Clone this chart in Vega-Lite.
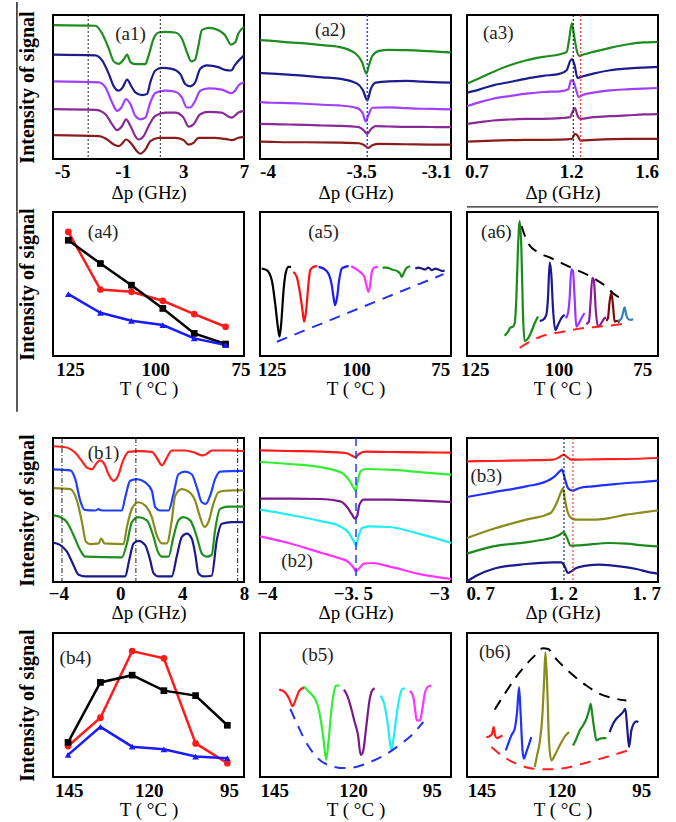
{
"$schema": "https://vega.github.io/schema/vega-lite/v6.json",
"background": "white",
"autosize": {"type": "pad"},
"padding": {"left": 15, "top": 0, "right": 2, "bottom": 2},
"config": {
 "view": {"stroke": "black", "strokeWidth": 2},
 "legend": {"disable": true},
 "text": {"font": "Liberation Serif, Times New Roman, serif", "fontSize": 19, "color": "#222"},
 "axis": {"grid": false, "ticks": false, "domain": false, "labelFont": "Liberation Serif, Times New Roman, serif", "labelFontWeight": "bold", "labelFontSize": 19, "labelColor": "black", "titleFont": "Liberation Serif, Times New Roman, serif", "titleFontWeight": "normal", "titleFontSize": 19, "titleColor": "black", "labelFlush": false, "labelOverlap": false}
},
"datasets": {
 "a1v": [{"x": -3.28}, {"x": 1.48}],
 "a1": [
  {"s":"g","x":-5.53,"y":398},{"s":"g","x":-2.8,"y":396},{"s":"g","x":-2.36,"y":373},{"s":"g","x":-1.92,"y":328},{"s":"g","x":-1.59,"y":290},{"s":"g","x":-1.26,"y":283},{"s":"g","x":-0.93,"y":296},{"s":"g","x":-0.71,"y":310},{"s":"g","x":-0.49,"y":288},{"s":"g","x":-0.17,"y":282},{"s":"g","x":0.49,"y":282},{"s":"g","x":0.71,"y":308},{"s":"g","x":1.04,"y":358},{"s":"g","x":1.37,"y":376},{"s":"g","x":1.81,"y":378},{"s":"g","x":2.46,"y":376},{"s":"g","x":2.9,"y":358},{"s":"g","x":3.23,"y":318},{"s":"g","x":3.52,"y":290},{"s":"g","x":3.78,"y":296},{"s":"g","x":4.0,"y":338},{"s":"g","x":4.22,"y":383},{"s":"g","x":4.66,"y":390},{"s":"g","x":5.31,"y":383},{"s":"g","x":5.75,"y":368},{"s":"g","x":6.15,"y":340},{"s":"g","x":6.41,"y":346},{"s":"g","x":6.63,"y":373},{"s":"g","x":7.0,"y":393},
  {"s":"n","x":-5.53,"y":310},{"s":"n","x":-2.8,"y":308},{"s":"n","x":-2.36,"y":293},{"s":"n","x":-1.92,"y":253},{"s":"n","x":-1.59,"y":216},{"s":"n","x":-1.26,"y":203},{"s":"n","x":-1.0,"y":213},{"s":"n","x":-0.71,"y":236},{"s":"n","x":-0.43,"y":216},{"s":"n","x":-0.17,"y":198},{"s":"n","x":0.27,"y":190},{"s":"n","x":0.6,"y":193},{"s":"n","x":0.82,"y":228},{"s":"n","x":1.15,"y":263},{"s":"n","x":1.59,"y":271},{"s":"n","x":2.25,"y":268},{"s":"n","x":2.79,"y":253},{"s":"n","x":3.12,"y":223},{"s":"n","x":3.45,"y":216},{"s":"n","x":3.78,"y":228},{"s":"n","x":4.11,"y":268},{"s":"n","x":4.55,"y":278},{"s":"n","x":5.31,"y":273},{"s":"n","x":5.75,"y":265},{"s":"n","x":6.15,"y":263},{"s":"n","x":6.41,"y":280},{"s":"n","x":7.0,"y":308},
  {"s":"v","x":-5.53,"y":231},{"s":"v","x":-2.58,"y":228},{"s":"v","x":-2.14,"y":213},{"s":"v","x":-1.7,"y":168},{"s":"v","x":-1.37,"y":143},{"s":"v","x":-1.09,"y":153},{"s":"v","x":-0.78,"y":178},{"s":"v","x":-0.49,"y":163},{"s":"v","x":-0.17,"y":128},{"s":"v","x":0.16,"y":118},{"s":"v","x":0.49,"y":123},{"s":"v","x":0.82,"y":168},{"s":"v","x":1.15,"y":196},{"s":"v","x":1.81,"y":203},{"s":"v","x":2.46,"y":200},{"s":"v","x":2.9,"y":183},{"s":"v","x":3.23,"y":153},{"s":"v","x":3.45,"y":153},{"s":"v","x":3.78,"y":173},{"s":"v","x":4.11,"y":203},{"s":"v","x":4.66,"y":210},{"s":"v","x":5.53,"y":206},{"s":"v","x":6.15,"y":196},{"s":"v","x":6.41,"y":203},{"s":"v","x":6.63,"y":218},{"s":"v","x":7.0,"y":228},
  {"s":"p","x":-5.53,"y":148},{"s":"p","x":-2.8,"y":146},{"s":"p","x":-2.14,"y":133},{"s":"p","x":-1.7,"y":103},{"s":"p","x":-1.37,"y":86},{"s":"p","x":-1.04,"y":98},{"s":"p","x":-0.78,"y":118},{"s":"p","x":-0.49,"y":98},{"s":"p","x":-0.17,"y":68},{"s":"p","x":0.05,"y":58},{"s":"p","x":0.38,"y":68},{"s":"p","x":0.71,"y":98},{"s":"p","x":1.15,"y":128},{"s":"p","x":1.81,"y":138},{"s":"p","x":2.46,"y":138},{"s":"p","x":3.01,"y":123},{"s":"p","x":3.34,"y":96},{"s":"p","x":3.67,"y":103},{"s":"p","x":4.11,"y":133},{"s":"p","x":4.66,"y":140},{"s":"p","x":5.53,"y":138},{"s":"p","x":5.97,"y":126},{"s":"p","x":6.19,"y":123},{"s":"p","x":6.63,"y":138},{"s":"p","x":7.0,"y":143},
  {"s":"r","x":-5.53,"y":71},{"s":"r","x":-2.58,"y":68},{"s":"r","x":-2.03,"y":58},{"s":"r","x":-1.59,"y":43},{"s":"r","x":-1.26,"y":38},{"s":"r","x":-1.0,"y":48},{"s":"r","x":-0.78,"y":58},{"s":"r","x":-0.39,"y":43},{"s":"r","x":-0.06,"y":23},{"s":"r","x":0.16,"y":16},{"s":"r","x":0.49,"y":28},{"s":"r","x":0.82,"y":53},{"s":"r","x":1.37,"y":63},{"s":"r","x":2.46,"y":63},{"s":"r","x":3.01,"y":56},{"s":"r","x":3.34,"y":43},{"s":"r","x":3.67,"y":48},{"s":"r","x":4.0,"y":63},{"s":"r","x":5.09,"y":63},{"s":"r","x":5.97,"y":58},{"s":"r","x":6.19,"y":56},{"s":"r","x":6.63,"y":63},{"s":"r","x":7.0,"y":66}
 ],
 "a2v": [{"x": -3.467}],
 "a2": [
  {"s":"g","x":-4.039,"y":355},{"s":"g","x":-3.977,"y":353},{"s":"g","x":-3.887,"y":348},{"s":"g","x":-3.798,"y":345},{"s":"g","x":-3.708,"y":340},{"s":"g","x":-3.619,"y":335},{"s":"g","x":-3.53,"y":315},{"s":"g","x":-3.494,"y":288},{"s":"g","x":-3.472,"y":255},{"s":"g","x":-3.458,"y":280},{"s":"g","x":-3.44,"y":308},{"s":"g","x":-3.404,"y":323},{"s":"g","x":-3.351,"y":326},{"s":"g","x":-3.261,"y":325},{"s":"g","x":-3.172,"y":323},{"s":"g","x":-3.082,"y":320},{"s":"g","x":-3.02,"y":318},
  {"s":"n","x":-4.039,"y":257},{"s":"n","x":-3.977,"y":255},{"s":"n","x":-3.887,"y":252},{"s":"n","x":-3.798,"y":248},{"s":"n","x":-3.708,"y":244},{"s":"n","x":-3.619,"y":240},{"s":"n","x":-3.521,"y":225},{"s":"n","x":-3.49,"y":205},{"s":"n","x":-3.467,"y":175},{"s":"n","x":-3.449,"y":208},{"s":"n","x":-3.422,"y":228},{"s":"n","x":-3.351,"y":232},{"s":"n","x":-3.261,"y":233},{"s":"n","x":-3.172,"y":231},{"s":"n","x":-3.082,"y":229},{"s":"n","x":-3.02,"y":228},
  {"s":"v","x":-4.039,"y":170},{"s":"v","x":-3.977,"y":168},{"s":"v","x":-3.887,"y":167},{"s":"v","x":-3.798,"y":165},{"s":"v","x":-3.708,"y":162},{"s":"v","x":-3.619,"y":160},{"s":"v","x":-3.521,"y":152},{"s":"v","x":-3.49,"y":135},{"s":"v","x":-3.476,"y":112},{"s":"v","x":-3.462,"y":130},{"s":"v","x":-3.44,"y":153},{"s":"v","x":-3.351,"y":154},{"s":"v","x":-3.261,"y":152},{"s":"v","x":-3.172,"y":150},{"s":"v","x":-3.082,"y":149},{"s":"v","x":-3.02,"y":148},
  {"s":"p","x":-4.039,"y":105},{"s":"p","x":-3.977,"y":104},{"s":"p","x":-3.887,"y":103},{"s":"p","x":-3.798,"y":102},{"s":"p","x":-3.708,"y":100},{"s":"p","x":-3.619,"y":99},{"s":"p","x":-3.512,"y":95},{"s":"p","x":-3.485,"y":85},{"s":"p","x":-3.467,"y":75},{"s":"p","x":-3.449,"y":88},{"s":"p","x":-3.422,"y":98},{"s":"p","x":-3.351,"y":97},{"s":"p","x":-3.261,"y":96},{"s":"p","x":-3.172,"y":96},{"s":"p","x":-3.082,"y":95},{"s":"p","x":-3.02,"y":95},
  {"s":"r","x":-4.039,"y":52},{"s":"r","x":-3.977,"y":51},{"s":"r","x":-3.887,"y":50},{"s":"r","x":-3.798,"y":50},{"s":"r","x":-3.619,"y":49},{"s":"r","x":-3.512,"y":47},{"s":"r","x":-3.485,"y":42},{"s":"r","x":-3.462,"y":33},{"s":"r","x":-3.44,"y":41},{"s":"r","x":-3.404,"y":45},{"s":"r","x":-3.261,"y":44},{"s":"r","x":-3.082,"y":43},{"s":"r","x":-3.02,"y":43}
 ],
 "a3v": [{"x": 1.212, "s": "vk"}, {"x": 1.251, "s": "vr"}],
 "a3": [
  {"s":"g","x":0.651,"y":225},{"s":"g","x":0.718,"y":242},{"s":"g","x":0.788,"y":260},{"s":"g","x":0.877,"y":280},{"s":"g","x":0.965,"y":295},{"s":"g","x":1.053,"y":305},{"s":"g","x":1.142,"y":313},{"s":"g","x":1.177,"y":320},{"s":"g","x":1.191,"y":360},{"s":"g","x":1.204,"y":405},{"s":"g","x":1.216,"y":370},{"s":"g","x":1.23,"y":325},{"s":"g","x":1.244,"y":308},{"s":"g","x":1.265,"y":312},{"s":"g","x":1.318,"y":320},{"s":"g","x":1.407,"y":332},{"s":"g","x":1.495,"y":342},{"s":"g","x":1.583,"y":348},{"s":"g","x":1.659,"y":350},
  {"s":"n","x":0.651,"y":198},{"s":"n","x":0.718,"y":208},{"s":"n","x":0.788,"y":220},{"s":"n","x":0.877,"y":230},{"s":"n","x":0.965,"y":240},{"s":"n","x":1.053,"y":248},{"s":"n","x":1.142,"y":255},{"s":"n","x":1.177,"y":265},{"s":"n","x":1.195,"y":292},{"s":"n","x":1.205,"y":298},{"s":"n","x":1.219,"y":280},{"s":"n","x":1.234,"y":242},{"s":"n","x":1.251,"y":245},{"s":"n","x":1.318,"y":255},{"s":"n","x":1.407,"y":265},{"s":"n","x":1.495,"y":270},{"s":"n","x":1.583,"y":273},{"s":"n","x":1.659,"y":275},
  {"s":"v","x":0.651,"y":158},{"s":"v","x":0.718,"y":170},{"s":"v","x":0.788,"y":180},{"s":"v","x":0.877,"y":188},{"s":"v","x":0.965,"y":195},{"s":"v","x":1.053,"y":200},{"s":"v","x":1.142,"y":202},{"s":"v","x":1.186,"y":208},{"s":"v","x":1.2,"y":235},{"s":"v","x":1.212,"y":232},{"s":"v","x":1.226,"y":208},{"s":"v","x":1.241,"y":185},{"s":"v","x":1.257,"y":190},{"s":"v","x":1.318,"y":198},{"s":"v","x":1.407,"y":205},{"s":"v","x":1.495,"y":208},{"s":"v","x":1.583,"y":210},{"s":"v","x":1.659,"y":212},
  {"s":"p","x":0.651,"y":105},{"s":"p","x":0.718,"y":110},{"s":"p","x":0.788,"y":115},{"s":"p","x":0.877,"y":118},{"s":"p","x":0.965,"y":120},{"s":"p","x":1.053,"y":120},{"s":"p","x":1.142,"y":122},{"s":"p","x":1.195,"y":125},{"s":"p","x":1.212,"y":145},{"s":"p","x":1.221,"y":152},{"s":"p","x":1.234,"y":130},{"s":"p","x":1.251,"y":120},{"s":"p","x":1.318,"y":125},{"s":"p","x":1.407,"y":128},{"s":"p","x":1.495,"y":130},{"s":"p","x":1.583,"y":133},{"s":"p","x":1.659,"y":134},
  {"s":"r","x":0.651,"y":52},{"s":"r","x":0.788,"y":55},{"s":"r","x":0.965,"y":57},{"s":"r","x":1.142,"y":58},{"s":"r","x":1.204,"y":60},{"s":"r","x":1.221,"y":75},{"s":"r","x":1.234,"y":70},{"s":"r","x":1.251,"y":55},{"s":"r","x":1.318,"y":57},{"s":"r","x":1.495,"y":60},{"s":"r","x":1.659,"y":60}
 ],
 "a4": [
  {"s":"s1","x":125.5,"y":373},{"s":"s1","x":116.1,"y":200},{"s":"s1","x":107.0,"y":193},{"s":"s1","x":97.8,"y":166},{"s":"s1","x":88.6,"y":126},{"s":"s1","x":79.4,"y":88},
  {"s":"s2","x":125.5,"y":348},{"s":"s2","x":116.1,"y":278},{"s":"s2","x":107.0,"y":213},{"s":"s2","x":97.8,"y":143},{"s":"s2","x":88.6,"y":68},{"s":"s2","x":79.4,"y":36},
  {"s":"s3","x":125.5,"y":186},{"s":"s3","x":116.1,"y":130},{"s":"s3","x":107.0,"y":106},{"s":"s3","x":97.8,"y":93},{"s":"s3","x":88.6,"y":53},{"s":"s3","x":79.4,"y":33}
 ],
 "a5": [
  {"s":"k","x":128.0,"y":263},{"s":"k","x":126.5,"y":258},{"s":"k","x":125.0,"y":228},{"s":"k","x":124.0,"y":158},{"s":"k","x":123.2,"y":88},{"s":"k","x":122.7,"y":58},{"s":"k","x":122.2,"y":98},{"s":"k","x":121.5,"y":198},{"s":"k","x":120.8,"y":253},{"s":"k","x":120.0,"y":268},{"s":"k","x":119.3,"y":268},
  {"s":"r","x":118.6,"y":253},{"s":"r","x":117.6,"y":238},{"s":"r","x":116.6,"y":188},{"s":"r","x":115.9,"y":138},{"s":"r","x":115.4,"y":103},{"s":"r","x":114.8,"y":138},{"s":"r","x":114.1,"y":218},{"s":"r","x":113.6,"y":258},{"s":"r","x":112.6,"y":268},{"s":"r","x":111.6,"y":270},
  {"s":"b","x":111.1,"y":268},{"s":"b","x":109.7,"y":263},{"s":"b","x":108.2,"y":248},{"s":"b","x":107.2,"y":213},{"s":"b","x":106.7,"y":178},{"s":"b","x":106.2,"y":153},{"s":"b","x":105.6,"y":178},{"s":"b","x":105.0,"y":228},{"s":"b","x":104.2,"y":263},{"s":"b","x":103.2,"y":268},{"s":"b","x":102.2,"y":270},
  {"s":"m","x":101.4,"y":270},{"s":"m","x":100.2,"y":263},{"s":"m","x":98.8,"y":253},{"s":"m","x":97.5,"y":238},{"s":"m","x":96.8,"y":208},{"s":"m","x":96.3,"y":193},{"s":"m","x":95.8,"y":213},{"s":"m","x":95.3,"y":253},{"s":"m","x":94.5,"y":266},{"s":"m","x":93.5,"y":268},
  {"s":"g","x":92.1,"y":266},{"s":"g","x":90.8,"y":266},{"s":"g","x":89.4,"y":260},{"s":"g","x":87.9,"y":256},{"s":"g","x":86.9,"y":248},{"s":"g","x":86.4,"y":238},{"s":"g","x":85.8,"y":250},{"s":"g","x":84.9,"y":266},{"s":"g","x":83.9,"y":270},
  {"s":"n","x":82.4,"y":263},{"s":"n","x":81.4,"y":266},{"s":"n","x":80.4,"y":263},{"s":"n","x":79.5,"y":260},{"s":"n","x":78.5,"y":266},{"s":"n","x":77.5,"y":258},{"s":"n","x":76.5,"y":263},{"s":"n","x":75.5,"y":260},{"s":"n","x":74.5,"y":256},{"s":"n","x":73.7,"y":256}
 ],
 "a5d": [{"s":"d","x":123.5,"y":43},{"s":"d","x":74.0,"y":246}],
 "a6": [
  {"s":"g","x":116.05,"y":60},{"s":"g","x":115.06,"y":72},{"s":"g","x":114.36,"y":84},{"s":"g","x":113.57,"y":87},{"s":"g","x":113.07,"y":97},{"s":"g","x":112.57,"y":172},{"s":"g","x":112.08,"y":322},{"s":"g","x":111.58,"y":400},{"s":"g","x":111.08,"y":322},{"s":"g","x":110.59,"y":122},{"s":"g","x":110.09,"y":44},{"s":"g","x":109.1,"y":52},{"s":"g","x":108.1,"y":72},{"s":"g","x":107.11,"y":97},{"s":"g","x":106.11,"y":117},
  {"s":"n","x":105.62,"y":104},{"s":"n","x":104.62,"y":107},{"s":"n","x":103.63,"y":122},{"s":"n","x":103.13,"y":172},{"s":"n","x":102.63,"y":277},{"s":"n","x":102.14,"y":242},{"s":"n","x":101.64,"y":142},{"s":"n","x":100.94,"y":77},{"s":"n","x":100.15,"y":92},{"s":"n","x":99.15,"y":112},{"s":"n","x":98.16,"y":122},
  {"s":"v","x":97.86,"y":112},{"s":"v","x":97.17,"y":127},{"s":"v","x":96.67,"y":172},{"s":"v","x":96.17,"y":257},{"s":"v","x":95.68,"y":252},{"s":"v","x":95.18,"y":172},{"s":"v","x":94.68,"y":87},{"s":"v","x":93.89,"y":97},{"s":"v","x":92.89,"y":117},{"s":"v","x":92.2,"y":127},
  {"s":"p","x":91.7,"y":94},{"s":"p","x":90.91,"y":102},{"s":"p","x":90.41,"y":162},{"s":"p","x":89.91,"y":232},{"s":"p","x":89.41,"y":222},{"s":"p","x":88.92,"y":142},{"s":"p","x":88.22,"y":87},{"s":"p","x":87.23,"y":97},{"s":"p","x":86.23,"y":112},{"s":"p","x":85.74,"y":114},
  {"s":"r","x":85.74,"y":104},{"s":"r","x":85.24,"y":112},{"s":"r","x":84.74,"y":162},{"s":"r","x":84.24,"y":187},{"s":"r","x":83.75,"y":152},{"s":"r","x":83.25,"y":102},{"s":"r","x":82.56,"y":104},{"s":"r","x":81.76,"y":100},
  {"s":"lb","x":82.26,"y":104},{"s":"lb","x":81.26,"y":110},{"s":"lb","x":80.77,"y":127},{"s":"lb","x":80.27,"y":144},{"s":"lb","x":79.77,"y":122},{"s":"lb","x":79.27,"y":110},{"s":"lb","x":78.28,"y":107},{"s":"lb","x":77.78,"y":110}
 ],
 "a6e": [
  {"s":"top","x":111.0,"y":385},{"s":"top","x":109.1,"y":335},{"s":"top","x":105.6,"y":305},{"s":"top","x":102.6,"y":292},{"s":"top","x":96.2,"y":262},{"s":"top","x":89.7,"y":232},{"s":"top","x":85.7,"y":205},{"s":"top","x":83.8,"y":187},{"s":"top","x":80.3,"y":165},
  {"s":"bot","x":111.58,"y":24},{"s":"bot","x":108.6,"y":42},{"s":"bot","x":104.6,"y":60},{"s":"bot","x":98.7,"y":72},{"s":"bot","x":93.0,"y":82},{"s":"bot","x":86.7,"y":88},{"s":"bot","x":79.8,"y":97}
 ],
 "b1v": [{"x": -3.77}, {"x": 1.01}, {"x": 7.59}],
 "b1": [
  {"s":"r","x":-4.31,"y":412},{"s":"r","x":-3.55,"y":409},{"s":"r","x":-2.91,"y":392},{"s":"r","x":-2.48,"y":367},{"s":"r","x":-2.16,"y":347},{"s":"r","x":-1.83,"y":342},{"s":"r","x":-1.51,"y":362},{"s":"r","x":-1.3,"y":369},{"s":"r","x":-1.02,"y":357},{"s":"r","x":-0.76,"y":327},{"s":"r","x":-0.43,"y":307},{"s":"r","x":-0.15,"y":322},{"s":"r","x":0.21,"y":372},{"s":"r","x":0.53,"y":395},{"s":"r","x":1.18,"y":397},{"s":"r","x":2.04,"y":395},{"s":"r","x":2.36,"y":377},{"s":"r","x":2.69,"y":354},{"s":"r","x":3.01,"y":377},{"s":"r","x":3.33,"y":399},{"s":"r","x":4.19,"y":399},{"s":"r","x":4.84,"y":392},{"s":"r","x":5.31,"y":384},{"s":"r","x":5.59,"y":389},{"s":"r","x":5.91,"y":399},{"s":"r","x":7.2,"y":399},{"s":"r","x":8.0,"y":397},
  {"s":"b","x":-4.31,"y":342},{"s":"b","x":-3.23,"y":339},{"s":"b","x":-2.91,"y":312},{"s":"b","x":-2.59,"y":247},{"s":"b","x":-2.31,"y":219},{"s":"b","x":-1.62,"y":217},{"s":"b","x":-1.4,"y":221},{"s":"b","x":-1.19,"y":217},{"s":"b","x":0.1,"y":217},{"s":"b","x":0.32,"y":257},{"s":"b","x":0.64,"y":307},{"s":"b","x":1.07,"y":312},{"s":"b","x":1.61,"y":302},{"s":"b","x":2.04,"y":277},{"s":"b","x":2.26,"y":227},{"s":"b","x":2.58,"y":217},{"s":"b","x":3.12,"y":217},{"s":"b","x":3.44,"y":267},{"s":"b","x":3.76,"y":327},{"s":"b","x":4.19,"y":335},{"s":"b","x":4.62,"y":327},{"s":"b","x":4.95,"y":287},{"s":"b","x":5.27,"y":242},{"s":"b","x":5.53,"y":237},{"s":"b","x":5.81,"y":262},{"s":"b","x":6.13,"y":312},{"s":"b","x":6.45,"y":335},{"s":"b","x":8.0,"y":337},
  {"s":"o","x":-4.31,"y":285},{"s":"o","x":-3.23,"y":282},{"s":"o","x":-2.8,"y":247},{"s":"o","x":-2.48,"y":182},{"s":"o","x":-2.22,"y":122},{"s":"o","x":-1.94,"y":115},{"s":"o","x":-1.4,"y":117},{"s":"o","x":-1.23,"y":132},{"s":"o","x":-1.02,"y":117},{"s":"o","x":0.21,"y":115},{"s":"o","x":0.43,"y":167},{"s":"o","x":0.75,"y":222},{"s":"o","x":1.18,"y":242},{"s":"o","x":1.61,"y":232},{"s":"o","x":2.04,"y":197},{"s":"o","x":2.36,"y":142},{"s":"o","x":2.69,"y":117},{"s":"o","x":3.01,"y":117},{"s":"o","x":3.33,"y":187},{"s":"o","x":3.55,"y":262},{"s":"o","x":3.98,"y":282},{"s":"o","x":4.41,"y":275},{"s":"o","x":4.84,"y":247},{"s":"o","x":5.16,"y":197},{"s":"o","x":5.44,"y":167},{"s":"o","x":5.7,"y":182},{"s":"o","x":6.02,"y":237},{"s":"o","x":6.34,"y":272},{"s":"o","x":6.77,"y":277},{"s":"o","x":8.0,"y":279},
  {"s":"g","x":-4.31,"y":202},{"s":"g","x":-3.88,"y":197},{"s":"g","x":-3.45,"y":182},{"s":"g","x":-3.02,"y":142},{"s":"g","x":-2.59,"y":97},{"s":"g","x":-2.26,"y":77},{"s":"g","x":0.1,"y":75},{"s":"g","x":0.43,"y":117},{"s":"g","x":0.75,"y":182},{"s":"g","x":1.18,"y":197},{"s":"g","x":1.72,"y":187},{"s":"g","x":2.15,"y":137},{"s":"g","x":2.43,"y":92},{"s":"g","x":2.69,"y":77},{"s":"g","x":3.12,"y":77},{"s":"g","x":3.44,"y":137},{"s":"g","x":3.76,"y":187},{"s":"g","x":4.08,"y":197},{"s":"g","x":4.52,"y":187},{"s":"g","x":4.95,"y":137},{"s":"g","x":5.27,"y":87},{"s":"g","x":5.59,"y":77},{"s":"g","x":5.91,"y":82},{"s":"g","x":6.13,"y":157},{"s":"g","x":6.45,"y":222},{"s":"g","x":6.99,"y":229},{"s":"g","x":8.0,"y":229},
  {"s":"n","x":-4.31,"y":119},{"s":"n","x":-3.88,"y":112},{"s":"n","x":-3.45,"y":92},{"s":"n","x":-3.08,"y":57},{"s":"n","x":-2.69,"y":22},{"s":"n","x":-2.26,"y":17},{"s":"n","x":0.32,"y":17},{"s":"n","x":0.58,"y":67},{"s":"n","x":0.86,"y":117},{"s":"n","x":1.18,"y":125},{"s":"n","x":1.61,"y":112},{"s":"n","x":1.93,"y":67},{"s":"n","x":2.15,"y":27},{"s":"n","x":2.47,"y":17},{"s":"n","x":3.33,"y":17},{"s":"n","x":3.65,"y":77},{"s":"n","x":3.98,"y":137},{"s":"n","x":4.3,"y":147},{"s":"n","x":4.62,"y":132},{"s":"n","x":4.84,"y":87},{"s":"n","x":5.05,"y":27},{"s":"n","x":5.38,"y":17},{"s":"n","x":5.91,"y":19},{"s":"n","x":6.24,"y":127},{"s":"n","x":6.56,"y":177},{"s":"n","x":7.2,"y":182},{"s":"n","x":8.0,"y":182}
 ],
 "b2v": [{"x": -3.482}],
 "b2": [
  {"s":"r","x":-4.039,"y":395},{"s":"r","x":-3.874,"y":393},{"s":"r","x":-3.68,"y":391},{"s":"r","x":-3.544,"y":387},{"s":"r","x":-3.505,"y":379},{"s":"r","x":-3.485,"y":374},{"s":"r","x":-3.466,"y":384},{"s":"r","x":-3.427,"y":391},{"s":"r","x":-3.291,"y":390},{"s":"r","x":-3.097,"y":389},{"s":"r","x":-2.928,"y":388},
  {"s":"g","x":-4.039,"y":360},{"s":"g","x":-3.874,"y":354},{"s":"g","x":-3.68,"y":344},{"s":"g","x":-3.563,"y":327},{"s":"g","x":-3.524,"y":307},{"s":"g","x":-3.495,"y":282},{"s":"g","x":-3.485,"y":274},{"s":"g","x":-3.476,"y":292},{"s":"g","x":-3.456,"y":332},{"s":"g","x":-3.427,"y":339},{"s":"g","x":-3.291,"y":337},{"s":"g","x":-3.097,"y":329},{"s":"g","x":-2.928,"y":322},
  {"s":"p","x":-4.039,"y":250},{"s":"p","x":-3.874,"y":250},{"s":"p","x":-3.68,"y":249},{"s":"p","x":-3.573,"y":242},{"s":"p","x":-3.534,"y":225},{"s":"p","x":-3.505,"y":202},{"s":"p","x":-3.489,"y":190},{"s":"p","x":-3.476,"y":197},{"s":"p","x":-3.462,"y":232},{"s":"p","x":-3.437,"y":247},{"s":"p","x":-3.291,"y":247},{"s":"p","x":-3.097,"y":244},{"s":"p","x":-2.928,"y":240},
  {"s":"c","x":-4.039,"y":217},{"s":"c","x":-3.874,"y":202},{"s":"c","x":-3.68,"y":182},{"s":"c","x":-3.583,"y":169},{"s":"c","x":-3.524,"y":147},{"s":"c","x":-3.495,"y":122},{"s":"c","x":-3.482,"y":109},{"s":"c","x":-3.47,"y":132},{"s":"c","x":-3.447,"y":162},{"s":"c","x":-3.408,"y":167},{"s":"c","x":-3.291,"y":165},{"s":"c","x":-3.097,"y":142},{"s":"c","x":-2.928,"y":117},
  {"s":"m","x":-4.039,"y":137},{"s":"m","x":-3.874,"y":117},{"s":"m","x":-3.68,"y":87},{"s":"m","x":-3.583,"y":72},{"s":"m","x":-3.524,"y":59},{"s":"m","x":-3.495,"y":42},{"s":"m","x":-3.482,"y":32},{"s":"m","x":-3.466,"y":39},{"s":"m","x":-3.437,"y":55},{"s":"m","x":-3.388,"y":57},{"s":"m","x":-3.291,"y":47},{"s":"m","x":-3.097,"y":22},{"s":"m","x":-2.928,"y":9}
 ],
 "b3v": [{"x": 1.204, "s": "vk"}, {"x": 1.258, "s": "vr"}],
 "b3": [
  {"s":"r","x":0.62,"y":362},{"s":"r","x":0.776,"y":363},{"s":"r","x":0.977,"y":365},{"s":"r","x":1.138,"y":367},{"s":"r","x":1.178,"y":375},{"s":"r","x":1.202,"y":382},{"s":"r","x":1.222,"y":375},{"s":"r","x":1.248,"y":367},{"s":"r","x":1.379,"y":368},{"s":"r","x":1.58,"y":369},{"s":"r","x":1.77,"y":372},
  {"s":"b","x":0.62,"y":255},{"s":"b","x":0.776,"y":269},{"s":"b","x":0.977,"y":287},{"s":"b","x":1.098,"y":302},{"s":"b","x":1.148,"y":317},{"s":"b","x":1.178,"y":332},{"s":"b","x":1.192,"y":337},{"s":"b","x":1.208,"y":312},{"s":"b","x":1.228,"y":282},{"s":"b","x":1.254,"y":274},{"s":"b","x":1.298,"y":282},{"s":"b","x":1.379,"y":287},{"s":"b","x":1.479,"y":292},{"s":"b","x":1.58,"y":297},{"s":"b","x":1.68,"y":300},{"s":"b","x":1.77,"y":304},
  {"s":"o","x":0.62,"y":132},{"s":"o","x":0.776,"y":159},{"s":"o","x":0.977,"y":187},{"s":"o","x":1.098,"y":202},{"s":"o","x":1.128,"y":209},{"s":"o","x":1.148,"y":225},{"s":"o","x":1.168,"y":247},{"s":"o","x":1.188,"y":272},{"s":"o","x":1.198,"y":282},{"s":"o","x":1.208,"y":252},{"s":"o","x":1.222,"y":217},{"s":"o","x":1.248,"y":192},{"s":"o","x":1.278,"y":187},{"s":"o","x":1.379,"y":187},{"s":"o","x":1.479,"y":192},{"s":"o","x":1.58,"y":202},{"s":"o","x":1.68,"y":209},{"s":"o","x":1.77,"y":215},
  {"s":"g","x":0.62,"y":85},{"s":"g","x":0.776,"y":107},{"s":"g","x":0.977,"y":119},{"s":"g","x":1.098,"y":129},{"s":"g","x":1.148,"y":135},{"s":"g","x":1.178,"y":142},{"s":"g","x":1.202,"y":149},{"s":"g","x":1.222,"y":132},{"s":"g","x":1.244,"y":109},{"s":"g","x":1.298,"y":110},{"s":"g","x":1.479,"y":117},{"s":"g","x":1.58,"y":115},{"s":"g","x":1.68,"y":110},{"s":"g","x":1.77,"y":107},
  {"s":"n","x":0.62,"y":2},{"s":"n","x":0.676,"y":19},{"s":"n","x":0.776,"y":39},{"s":"n","x":0.977,"y":54},{"s":"n","x":1.138,"y":59},{"s":"n","x":1.188,"y":59},{"s":"n","x":1.208,"y":47},{"s":"n","x":1.228,"y":27},{"s":"n","x":1.248,"y":32},{"s":"n","x":1.278,"y":42},{"s":"n","x":1.339,"y":49},{"s":"n","x":1.419,"y":52},{"s":"n","x":1.539,"y":47},{"s":"n","x":1.64,"y":39},{"s":"n","x":1.72,"y":29},{"s":"n","x":1.77,"y":25}
 ],
 "b4": [
  {"s":"s1","x":145.2,"y":94},{"s":"s1","x":135.1,"y":180},{"s":"s1","x":125.2,"y":382},{"s":"s1","x":115.3,"y":360},{"s":"s1","x":105.4,"y":102},{"s":"s1","x":95.5,"y":42},
  {"s":"s2","x":145.2,"y":105},{"s":"s2","x":135.1,"y":287},{"s":"s2","x":125.2,"y":309},{"s":"s2","x":115.3,"y":262},{"s":"s2","x":105.4,"y":247},{"s":"s2","x":95.5,"y":157},
  {"s":"s3","x":145.2,"y":67},{"s":"s3","x":135.1,"y":152},{"s":"s3","x":125.2,"y":92},{"s":"s3","x":115.3,"y":84},{"s":"s3","x":105.4,"y":62},{"s":"s3","x":95.5,"y":57}
 ],
 "b5": [
  {"s":"r","x":143.4,"y":265},{"s":"r","x":141.81,"y":259},{"s":"r","x":140.21,"y":237},{"s":"r","x":139.15,"y":215},{"s":"r","x":138.09,"y":237},{"s":"r","x":137.02,"y":262},{"s":"r","x":135.43,"y":272},
  {"s":"g","x":135.43,"y":275},{"s":"g","x":134.36,"y":262},{"s":"g","x":132.77,"y":247},{"s":"g","x":131.17,"y":217},{"s":"g","x":130.11,"y":167},{"s":"g","x":129.26,"y":107},{"s":"g","x":128.51,"y":52},{"s":"g","x":127.77,"y":107},{"s":"g","x":126.91,"y":197},{"s":"g","x":126.06,"y":257},{"s":"g","x":125.32,"y":277},{"s":"g","x":124.26,"y":277},
  {"s":"p","x":122.87,"y":265},{"s":"p","x":121.6,"y":242},{"s":"p","x":120.53,"y":207},{"s":"p","x":119.47,"y":167},{"s":"p","x":118.4,"y":127},{"s":"p","x":117.55,"y":67},{"s":"p","x":116.81,"y":77},{"s":"p","x":115.74,"y":157},{"s":"p","x":114.68,"y":237},{"s":"p","x":113.94,"y":262},{"s":"p","x":113.09,"y":269},
  {"s":"c","x":111.17,"y":247},{"s":"c","x":110.11,"y":222},{"s":"c","x":109.04,"y":167},{"s":"c","x":108.3,"y":107},{"s":"c","x":107.77,"y":82},{"s":"c","x":107.13,"y":117},{"s":"c","x":106.17,"y":187},{"s":"c","x":105.11,"y":247},{"s":"c","x":104.36,"y":267},{"s":"c","x":103.51,"y":269},
  {"s":"m","x":101.91,"y":262},{"s":"m","x":100.85,"y":242},{"s":"m","x":100.32,"y":207},{"s":"m","x":99.79,"y":172},{"s":"m","x":98.72,"y":172},{"s":"m","x":97.98,"y":207},{"s":"m","x":97.13,"y":257},{"s":"m","x":96.06,"y":275},{"s":"m","x":95.21,"y":277}
 ],
 "b5d": [
  {"s":"d","x":139.89,"y":207},{"s":"d","x":137.55,"y":157},{"s":"d","x":134.36,"y":97},{"s":"d","x":131.17,"y":57},{"s":"d","x":126.38,"y":32},{"s":"d","x":122.66,"y":27},{"s":"d","x":118.4,"y":32},{"s":"d","x":114.15,"y":47},{"s":"d","x":109.89,"y":67},{"s":"d","x":104.57,"y":102},{"s":"d","x":100.85,"y":132},{"s":"d","x":97.66,"y":167}
 ],
 "b6": [
  {"s":"r","x":143.44,"y":120},{"s":"r","x":142.4,"y":123},{"s":"r","x":141.67,"y":130},{"s":"r","x":141.15,"y":150},{"s":"r","x":140.73,"y":125},{"s":"r","x":140.1,"y":117},{"s":"r","x":139.27,"y":120},{"s":"r","x":138.44,"y":125},
  {"s":"b","x":137.4,"y":80},{"s":"b","x":136.35,"y":107},{"s":"b","x":135.63,"y":125},{"s":"b","x":134.58,"y":145},{"s":"b","x":133.85,"y":195},{"s":"b","x":133.23,"y":270},{"s":"b","x":132.71,"y":185},{"s":"b","x":132.19,"y":85},{"s":"b","x":131.77,"y":55},{"s":"b","x":130.94,"y":75},{"s":"b","x":129.9,"y":105},{"s":"b","x":129.38,"y":120},
  {"s":"o","x":128.33,"y":30},{"s":"o","x":127.6,"y":65},{"s":"o","x":126.77,"y":105},{"s":"o","x":125.94,"y":185},{"s":"o","x":125.42,"y":285},{"s":"o","x":125.0,"y":375},{"s":"o","x":124.48,"y":285},{"s":"o","x":123.85,"y":105},{"s":"o","x":123.13,"y":50},{"s":"o","x":122.08,"y":65},{"s":"o","x":120.52,"y":95},{"s":"o","x":118.65,"y":125},{"s":"o","x":117.6,"y":135},
  {"s":"g","x":116.35,"y":95},{"s":"g","x":115.31,"y":115},{"s":"g","x":114.27,"y":140},{"s":"g","x":113.23,"y":155},{"s":"g","x":112.19,"y":175},{"s":"g","x":111.35,"y":200},{"s":"g","x":110.83,"y":220},{"s":"g","x":110.31,"y":185},{"s":"g","x":109.58,"y":135},{"s":"g","x":109.06,"y":110},{"s":"g","x":108.02,"y":115},{"s":"g","x":106.98,"y":117},{"s":"g","x":105.94,"y":117},
  {"s":"n","x":104.9,"y":135},{"s":"n","x":103.85,"y":160},{"s":"n","x":102.81,"y":175},{"s":"n","x":101.77,"y":185},{"s":"n","x":100.73,"y":195},{"s":"n","x":100.0,"y":205},{"s":"n","x":99.48,"y":155},{"s":"n","x":98.85,"y":90},{"s":"n","x":98.13,"y":140},{"s":"n","x":97.4,"y":160},{"s":"n","x":96.56,"y":167},{"s":"n","x":95.94,"y":165}
 ],
 "b6e": [
  {"s":"top","x":140.83,"y":203},{"s":"top","x":137.71,"y":250},{"s":"top","x":134.58,"y":295},{"s":"top","x":131.46,"y":333},{"s":"top","x":128.33,"y":365},{"s":"top","x":125.73,"y":387},{"s":"top","x":124.17,"y":385},{"s":"top","x":122.08,"y":360},{"s":"top","x":117.4,"y":315},{"s":"top","x":112.19,"y":275},{"s":"top","x":108.02,"y":250},{"s":"top","x":103.85,"y":237},{"s":"top","x":99.69,"y":230},
  {"s":"bot","x":141.88,"y":90},{"s":"bot","x":138.75,"y":65},{"s":"bot","x":134.06,"y":40},{"s":"bot","x":128.85,"y":25},{"s":"bot","x":124.69,"y":23},{"s":"bot","x":118.44,"y":28},{"s":"bot","x":112.19,"y":43},{"s":"bot","x":105.94,"y":60},{"s":"bot","x":100.73,"y":75},{"s":"bot","x":98.13,"y":83}
 ]
},
"resolve": {"scale": {"color": "independent", "shape": "independent"}},
"spacing": 18,
"vconcat": [
 {
  "columns": 3,
  "bounds": "flush",
  "spacing": {"row": 53, "column": 16},
  "resolve": {"scale": {"color": "independent", "shape": "independent"}},
  "concat": [
   {
    "width": 191, "height": 144,
    "layer": [
     {"data": {"name": "a1"}, "mark": {"type": "line", "interpolate": "monotone", "strokeWidth": 2.2}, "encoding": {
       "x": {"field": "x", "type": "quantitative", "scale": {"domain": [-5.6, 7.0], "nice": false, "zero": false}, "axis": {"values": [-5, -1, 3, 7], "labelExpr": "'' + datum.value", "title": "Δp (GHz)", "labelPadding": 3, "titlePadding": 2}},
       "y": {"field": "y", "type": "quantitative", "scale": {"domain": [0, 428], "nice": false, "zero": false}, "axis": {"title": "Intensity of signal", "labels": false, "titleFontWeight": "bold", "titleFontSize": 20, "titlePadding": 16}},
       "color": {"field": "s", "type": "nominal", "scale": {"domain": ["g", "n", "v", "p", "r"], "range": ["#1e8c1e", "#1c1c8c", "#a040ff", "#8a2a96", "#8b1c1c"]}, "legend": null}}},
     {"data": {"name": "a1v"}, "mark": {"type": "rule", "color": "#222", "strokeWidth": 1, "strokeDash": [2, 2]}, "encoding": {"x": {"field": "x", "type": "quantitative"}}},
     {"data": {"values": [{}]}, "mark": {"type": "text", "text": "(a1)"}, "encoding": {"x": {"datum": -0.49}, "y": {"datum": 373}}},
     {"data": {"values": [{}]}, "mark": {"type": "rule", "color": "#222", "strokeWidth": 1.5}, "encoding": {"x": {"datum": -7.98}, "y": {"datum": 467}, "y2": {"datum": -157}}}
    ]
   },
   {
    "width": 191, "height": 144,
    "layer": [
     {"data": {"name": "a2"}, "mark": {"type": "line", "interpolate": "monotone", "strokeWidth": 2.2}, "encoding": {
       "x": {"field": "x", "type": "quantitative", "scale": {"domain": [-4.04, -3.02], "nice": false, "zero": false}, "axis": {"values": [-4, -3.5, -3.1], "labelExpr": "'' + datum.value", "title": "Δp (GHz)", "labelPadding": 3, "titlePadding": 2}},
       "y": {"field": "y", "type": "quantitative", "scale": {"domain": [0, 430], "nice": false, "zero": false}, "axis": {"labels": false, "title": null}},
       "color": {"field": "s", "type": "nominal", "scale": {"domain": ["g", "n", "v", "p", "r"], "range": ["#1e8c1e", "#1c1c8c", "#a040ff", "#8a2a96", "#8b1c1c"]}, "legend": null}}},
     {"data": {"name": "a2v"}, "mark": {"type": "rule", "color": "#2244ff", "strokeWidth": 1.5, "strokeDash": [2, 2]}, "encoding": {"x": {"field": "x", "type": "quantitative"}}},
     {"data": {"values": [{}]}, "mark": {"type": "text", "text": "(a2)"}, "encoding": {"x": {"datum": -3.664}, "y": {"datum": 385}}}
    ]
   },
   {
    "width": 191, "height": 144,
    "layer": [
     {"data": {"name": "a3"}, "mark": {"type": "line", "interpolate": "monotone", "strokeWidth": 2.2}, "encoding": {
       "x": {"field": "x", "type": "quantitative", "scale": {"domain": [0.65, 1.66], "nice": false, "zero": false}, "axis": {"values": [0.7, 1.2, 1.6], "labelExpr": "'' + datum.value", "title": "Δp (GHz)", "labelPadding": 3, "titlePadding": 2}},
       "y": {"field": "y", "type": "quantitative", "scale": {"domain": [0, 430], "nice": false, "zero": false}, "axis": {"labels": false, "title": null}},
       "color": {"field": "s", "type": "nominal", "scale": {"domain": ["g", "n", "v", "p", "r", "vk", "vr"], "range": ["#1e8c1e", "#1c1c8c", "#a040ff", "#8a2a96", "#8b1c1c", "#000000", "#ff2020"]}, "legend": null}}},
     {"data": {"name": "a3v"}, "mark": {"type": "rule", "strokeWidth": 1, "strokeDash": [2, 2]}, "encoding": {"x": {"field": "x", "type": "quantitative"}, "color": {"field": "s", "type": "nominal", "legend": null}}},
     {"data": {"values": [{}]}, "mark": {"type": "text", "text": "(a3)"}, "encoding": {"x": {"datum": 0.815}, "y": {"datum": 375}}}
    ]
   },
   {
    "width": 191, "height": 144,
    "layer": [
     {"data": {"name": "a4"}, "mark": {"type": "line", "strokeWidth": 2.5}, "encoding": {
       "x": {"field": "x", "type": "quantitative", "scale": {"domain": [74, 130], "reverse": true, "nice": false, "zero": false}, "axis": {"values": [125, 100, 75], "title": "T ( °C )", "labelPadding": 4, "titlePadding": 0}},
       "y": {"field": "y", "type": "quantitative", "scale": {"domain": [0, 433], "nice": false, "zero": false}, "axis": {"title": "Intensity of signal", "labels": false, "titleFontWeight": "bold", "titleFontSize": 20, "titlePadding": 16}},
       "color": {"field": "s", "type": "nominal", "scale": {"domain": ["s1", "s2", "s3"], "range": ["#ff1a1a", "#000000", "#1a1aff"]}, "legend": null}}},
     {"data": {"name": "a4"}, "mark": {"type": "point", "filled": true, "size": 45, "opacity": 1}, "encoding": {
       "x": {"field": "x", "type": "quantitative"},
       "y": {"field": "y", "type": "quantitative"},
       "color": {"field": "s", "type": "nominal", "legend": null},
       "shape": {"field": "s", "type": "nominal", "scale": {"domain": ["s1", "s2", "s3"], "range": ["circle", "square", "triangle-up"]}, "legend": null}}},
     {"data": {"values": [{}]}, "mark": {"type": "text", "text": "(a4)"}, "encoding": {"x": {"datum": 115.3}, "y": {"datum": 373}}},
     {"data": {"values": [{}]}, "mark": {"type": "rule", "color": "#222", "strokeWidth": 1.5}, "encoding": {"x": {"datum": 140.55}, "y": {"datum": 433}, "y2": {"datum": -168}}}
    ]
   },
   {
    "width": 191, "height": 144,
    "layer": [
     {"data": {"name": "a5"}, "mark": {"type": "line", "interpolate": "monotone", "strokeWidth": 2.2}, "encoding": {
       "x": {"field": "x", "type": "quantitative", "scale": {"domain": [71.8, 128.5], "reverse": true, "nice": false, "zero": false}, "axis": {"values": [125, 100, 75], "title": "T ( °C )", "labelPadding": 4, "titlePadding": 0}},
       "y": {"field": "y", "type": "quantitative", "scale": {"domain": [0, 433], "nice": false, "zero": false}, "axis": {"labels": false, "title": null}},
       "color": {"field": "s", "type": "nominal", "scale": {"domain": ["k", "r", "b", "m", "g", "n", "d"], "range": ["#000000", "#ff1010", "#1a1aff", "#ff30ff", "#1a8a1a", "#1a1a80", "#2233ee"]}, "legend": null}}},
     {"data": {"name": "a5d"}, "mark": {"type": "line", "strokeWidth": 2, "strokeDash": [11, 8]}, "encoding": {
       "x": {"field": "x", "type": "quantitative"},
       "y": {"field": "y", "type": "quantitative"},
       "color": {"field": "s", "type": "nominal", "legend": null}}},
     {"data": {"values": [{}]}, "mark": {"type": "text", "text": "(a5)"}, "encoding": {"x": {"datum": 109.65}, "y": {"datum": 373}}}
    ]
   },
   {
    "width": 191, "height": 144,
    "layer": [
     {"data": {"name": "a6"}, "mark": {"type": "line", "interpolate": "monotone", "strokeWidth": 2.2}, "encoding": {
       "x": {"field": "x", "type": "quantitative", "scale": {"domain": [70.3, 127.3], "reverse": true, "nice": false, "zero": false}, "axis": {"values": [125, 100, 75], "title": "T ( °C )", "labelPadding": 4, "titlePadding": 0}},
       "y": {"field": "y", "type": "quantitative", "scale": {"domain": [0, 427], "nice": false, "zero": false}, "axis": {"labels": false, "title": null}},
       "color": {"field": "s", "type": "nominal", "scale": {"domain": ["g", "n", "v", "p", "r", "lb", "top", "bot"], "range": ["#1a8a1a", "#1a1a90", "#9933ff", "#8b1a9a", "#7a0a0a", "#3a80c0", "#000000", "#ff2020"]}, "legend": null}}},
     {"data": {"name": "a6e"}, "mark": {"type": "line", "interpolate": "monotone", "strokeWidth": 2, "strokeDash": [11, 8]}, "encoding": {
       "x": {"field": "x", "type": "quantitative"},
       "y": {"field": "y", "type": "quantitative"},
       "color": {"field": "s", "type": "nominal", "legend": null}}},
     {"data": {"values": [{}]}, "mark": {"type": "text", "text": "(a6)"}, "encoding": {"x": {"datum": 118.54}, "y": {"datum": 367}}},
     {"data": {"values": [{}]}, "mark": {"type": "rule", "color": "#222", "strokeWidth": 1.2}, "encoding": {"y": {"datum": 442}}}
    ]
   }
  ]
 },
 {
  "columns": 3,
  "bounds": "flush",
  "spacing": {"row": 51, "column": 16},
  "resolve": {"scale": {"color": "independent", "shape": "independent"}},
  "concat": [
   {
    "width": 191, "height": 144,
    "layer": [
     {"data": {"name": "b1"}, "mark": {"type": "line", "interpolate": "monotone", "strokeWidth": 2.2}, "encoding": {
       "x": {"field": "x", "type": "quantitative", "scale": {"domain": [-4.35, 8.0], "nice": false, "zero": false}, "axis": {"values": [-4, 0, 4, 8], "labelExpr": "replace('' + datum.value, '-', '−')", "title": "Δp (GHz)", "labelPadding": 2, "titlePadding": 0}},
       "y": {"field": "y", "type": "quantitative", "scale": {"domain": [0, 437], "nice": false, "zero": false}, "axis": {"title": "Intensity of signal", "labels": false, "titleFontWeight": "bold", "titleFontSize": 20, "titlePadding": 16}},
       "color": {"field": "s", "type": "nominal", "scale": {"domain": ["r", "b", "o", "g", "n"], "range": ["#ff2020", "#2040ff", "#8b8b1a", "#1f8f1f", "#1a1a8c"]}, "legend": null}}},
     {"data": {"name": "b1v"}, "mark": {"type": "rule", "color": "#222", "strokeWidth": 1, "strokeDash": [5, 2, 1, 2]}, "encoding": {"x": {"field": "x", "type": "quantitative"}}},
     {"data": {"values": [{}]}, "mark": {"type": "text", "text": "(b1)"}, "encoding": {"x": {"datum": -1.08}, "y": {"datum": 392}}}
    ]
   },
   {
    "width": 191, "height": 144,
    "layer": [
     {"data": {"name": "b2"}, "mark": {"type": "line", "interpolate": "monotone", "strokeWidth": 2.2}, "encoding": {
       "x": {"field": "x", "type": "quantitative", "scale": {"domain": [-4.04, -2.93], "nice": false, "zero": false}, "axis": {"values": [-4, -3.5, -3], "labelExpr": "replace(replace('' + datum.value, '-', '−'), '.', '. ')", "title": "Δp (GHz)", "labelPadding": 2, "titlePadding": 0}},
       "y": {"field": "y", "type": "quantitative", "scale": {"domain": [0, 432], "nice": false, "zero": false}, "axis": {"labels": false, "title": null}},
       "color": {"field": "s", "type": "nominal", "scale": {"domain": ["r", "g", "p", "c", "m"], "range": ["#ff1a1a", "#33ee33", "#7a1a8a", "#22eeee", "#ff33ff"]}, "legend": null}}},
     {"data": {"name": "b2v"}, "mark": {"type": "rule", "color": "#1a3cff", "strokeWidth": 1.5, "strokeDash": [8, 5]}, "encoding": {"x": {"field": "x", "type": "quantitative"}}},
     {"data": {"values": [{}]}, "mark": {"type": "text", "text": "(b2)"}, "encoding": {"x": {"datum": -3.825}, "y": {"datum": 62}}}
    ]
   },
   {
    "width": 191, "height": 144,
    "layer": [
     {"data": {"name": "b3"}, "mark": {"type": "line", "interpolate": "monotone", "strokeWidth": 2.2}, "encoding": {
       "x": {"field": "x", "type": "quantitative", "scale": {"domain": [0.62, 1.77], "nice": false, "zero": false}, "axis": {"values": [0.7, 1.2, 1.7], "labelExpr": "replace('' + datum.value, '.', '. ')", "title": "Δp (GHz)", "labelPadding": 2, "titlePadding": 0}},
       "y": {"field": "y", "type": "quantitative", "scale": {"domain": [0, 432], "nice": false, "zero": false}, "axis": {"labels": false, "title": null}},
       "color": {"field": "s", "type": "nominal", "scale": {"domain": ["r", "b", "o", "g", "n", "vk", "vr"], "range": ["#ff2020", "#2030ff", "#8b8b1a", "#1a8a1a", "#1a1a8c", "#000000", "#ff2020"]}, "legend": null}}},
     {"data": {"name": "b3v"}, "mark": {"type": "rule", "strokeWidth": 1, "strokeDash": [2, 2]}, "encoding": {"x": {"field": "x", "type": "quantitative"}, "color": {"field": "s", "type": "nominal", "legend": null}}},
     {"data": {"values": [{}]}, "mark": {"type": "text", "text": "(b3)"}, "encoding": {"x": {"datum": 0.736}, "y": {"datum": 317}}}
    ]
   },
   {
    "width": 191, "height": 144,
    "layer": [
     {"data": {"name": "b4"}, "mark": {"type": "line", "strokeWidth": 2.5}, "encoding": {
       "x": {"field": "x", "type": "quantitative", "scale": {"domain": [90.3, 149.9], "reverse": true, "nice": false, "zero": false}, "axis": {"values": [145, 120, 95], "title": "T ( °C )", "labelPadding": 4, "titlePadding": 0}},
       "y": {"field": "y", "type": "quantitative", "scale": {"domain": [0, 437], "nice": false, "zero": false}, "axis": {"title": "Intensity of signal", "labels": false, "titleFontWeight": "bold", "titleFontSize": 20, "titlePadding": 16}},
       "color": {"field": "s", "type": "nominal", "scale": {"domain": ["s1", "s2", "s3"], "range": ["#ff1a1a", "#000000", "#1a1aff"]}, "legend": null}}},
     {"data": {"name": "b4"}, "mark": {"type": "point", "filled": true, "size": 45, "opacity": 1}, "encoding": {
       "x": {"field": "x", "type": "quantitative"},
       "y": {"field": "y", "type": "quantitative"},
       "color": {"field": "s", "type": "nominal", "legend": null},
       "shape": {"field": "s", "type": "nominal", "scale": {"domain": ["s1", "s2", "s3"], "range": ["circle", "square", "triangle-up"]}, "legend": null}}},
     {"data": {"values": [{}]}, "mark": {"type": "text", "text": "(b4)"}, "encoding": {"x": {"datum": 142.9}, "y": {"datum": 362}}}
    ]
   },
   {
    "width": 191, "height": 144,
    "layer": [
     {"data": {"name": "b5"}, "mark": {"type": "line", "interpolate": "monotone", "strokeWidth": 2.2}, "encoding": {
       "x": {"field": "x", "type": "quantitative", "scale": {"domain": [88.9, 149.5], "reverse": true, "nice": false, "zero": false}, "axis": {"values": [145, 120, 95], "title": "T ( °C )", "labelPadding": 4, "titlePadding": 0}},
       "y": {"field": "y", "type": "quantitative", "scale": {"domain": [0, 437], "nice": false, "zero": false}, "axis": {"labels": false, "title": null}},
       "color": {"field": "s", "type": "nominal", "scale": {"domain": ["r", "g", "p", "c", "m", "d"], "range": ["#ff1a1a", "#33ee33", "#7a1a8a", "#22eeee", "#ff33ff", "#2233ee"]}, "legend": null}}},
     {"data": {"name": "b5d"}, "mark": {"type": "line", "interpolate": "monotone", "strokeWidth": 2, "strokeDash": [11, 8]}, "encoding": {
       "x": {"field": "x", "type": "quantitative"},
       "y": {"field": "y", "type": "quantitative"},
       "color": {"field": "s", "type": "nominal", "legend": null}}},
     {"data": {"values": [{}]}, "mark": {"type": "text", "text": "(b5)"}, "encoding": {"x": {"datum": 131.2}, "y": {"datum": 369}}}
    ]
   },
   {
    "width": 191, "height": 144,
    "layer": [
     {"data": {"name": "b6"}, "mark": {"type": "line", "interpolate": "monotone", "strokeWidth": 2.2}, "encoding": {
       "x": {"field": "x", "type": "quantitative", "scale": {"domain": [89.8, 149.5], "reverse": true, "nice": false, "zero": false}, "axis": {"values": [145, 120, 95], "title": "T ( °C )", "labelPadding": 4, "titlePadding": 0}},
       "y": {"field": "y", "type": "quantitative", "scale": {"domain": [0, 433], "nice": false, "zero": false}, "axis": {"labels": false, "title": null}},
       "color": {"field": "s", "type": "nominal", "scale": {"domain": ["r", "b", "o", "g", "n", "top", "bot"], "range": ["#ff1a1a", "#2030ff", "#8b8b1a", "#1a8a1a", "#1a1a8c", "#000000", "#ff2020"]}, "legend": null}}},
     {"data": {"name": "b6e"}, "mark": {"type": "line", "interpolate": "monotone", "strokeWidth": 2, "strokeDash": [11, 8]}, "encoding": {
       "x": {"field": "x", "type": "quantitative"},
       "y": {"field": "y", "type": "quantitative"},
       "color": {"field": "s", "type": "nominal", "legend": null}}},
     {"data": {"values": [{}]}, "mark": {"type": "text", "text": "(b6)"}, "encoding": {"x": {"datum": 140.8}, "y": {"datum": 375}}}
    ]
   }
  ]
 }
]
}
